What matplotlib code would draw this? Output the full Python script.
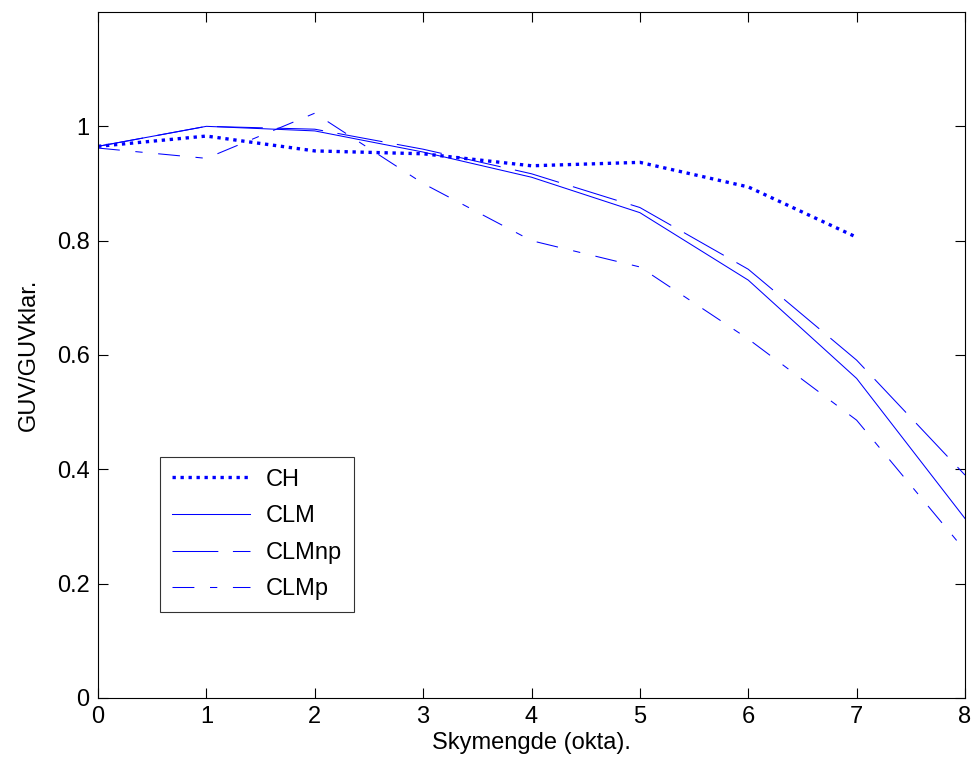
import matplotlib
matplotlib.use("Agg")
import matplotlib.pyplot as plt

plt.rcParams['font.family'] = ['Liberation Sans', 'DejaVu Sans']

# skymengde (okta)
okta = [0, 1, 2, 3, 4, 5, 6, 7, 8]
okta_ch = [0, 1, 2, 3, 4, 5, 6, 7]

# GUV/GUVklar
ch = [0.965, 0.983, 0.957, 0.952, 0.931, 0.937, 0.894, 0.806]
clm = [0.965, 1.000, 0.992, 0.955, 0.911, 0.849, 0.731, 0.559, 0.314]
clm_np = [0.965, 1.000, 0.995, 0.960, 0.917, 0.858, 0.750, 0.591, 0.390]
clm_p = [0.962, 0.944, 1.023, 0.900, 0.800, 0.754, 0.628, 0.486, 0.258]

fig = plt.figure(figsize=(9.73, 7.67), dpi=100)
ax = fig.add_axes([98 / 973, 69 / 767, 867 / 973, 686 / 767])

blue = (0, 0, 1)
fs = 17
ax.plot(okta_ch, ch, color=blue, linestyle=(0, (1, 1.4)), linewidth=2.4, label="CH")
ax.plot(okta, clm, color=blue, linestyle='-', linewidth=0.75, label="CLM")
ax.plot(okta, clm_np, color=blue, linestyle=(0, (44, 14)), linewidth=0.75, label="CLMnp")
ax.plot(okta, clm_p, color=blue, linestyle=(0, (21, 15, 7, 15)), linewidth=0.75, label="CLMp")

ax.set_xlim(0, 8)
ax.set_ylim(0, 1.2)
ax.set_xticks(range(0, 9))
ax.set_yticks([0, 0.2, 0.4, 0.6, 0.8, 1])
ax.set_yticklabels(["0", "0.2", "0.4", "0.6", "0.8", "1"])
ax.tick_params(direction='in', top=True, right=True, labelsize=fs, length=7,
               width=0.8, pad=6)
for s in ax.spines.values():
    s.set_linewidth(0.8)

ax.set_xlabel("Skymengde (okta).", fontsize=fs, labelpad=3)
ax.set_ylabel("GUV/GUVklar.", fontsize=fs, labelpad=12)

leg = ax.legend(loc='lower left', bbox_to_anchor=(0.0715, 0.125), fontsize=fs,
                frameon=True, fancybox=False, edgecolor='black', handlelength=3.3,
                borderpad=0.5, labelspacing=0.62, handletextpad=0.7,
                borderaxespad=0)
leg.get_frame().set_linewidth(0.8)

fig.savefig("out.png", dpi=100)
